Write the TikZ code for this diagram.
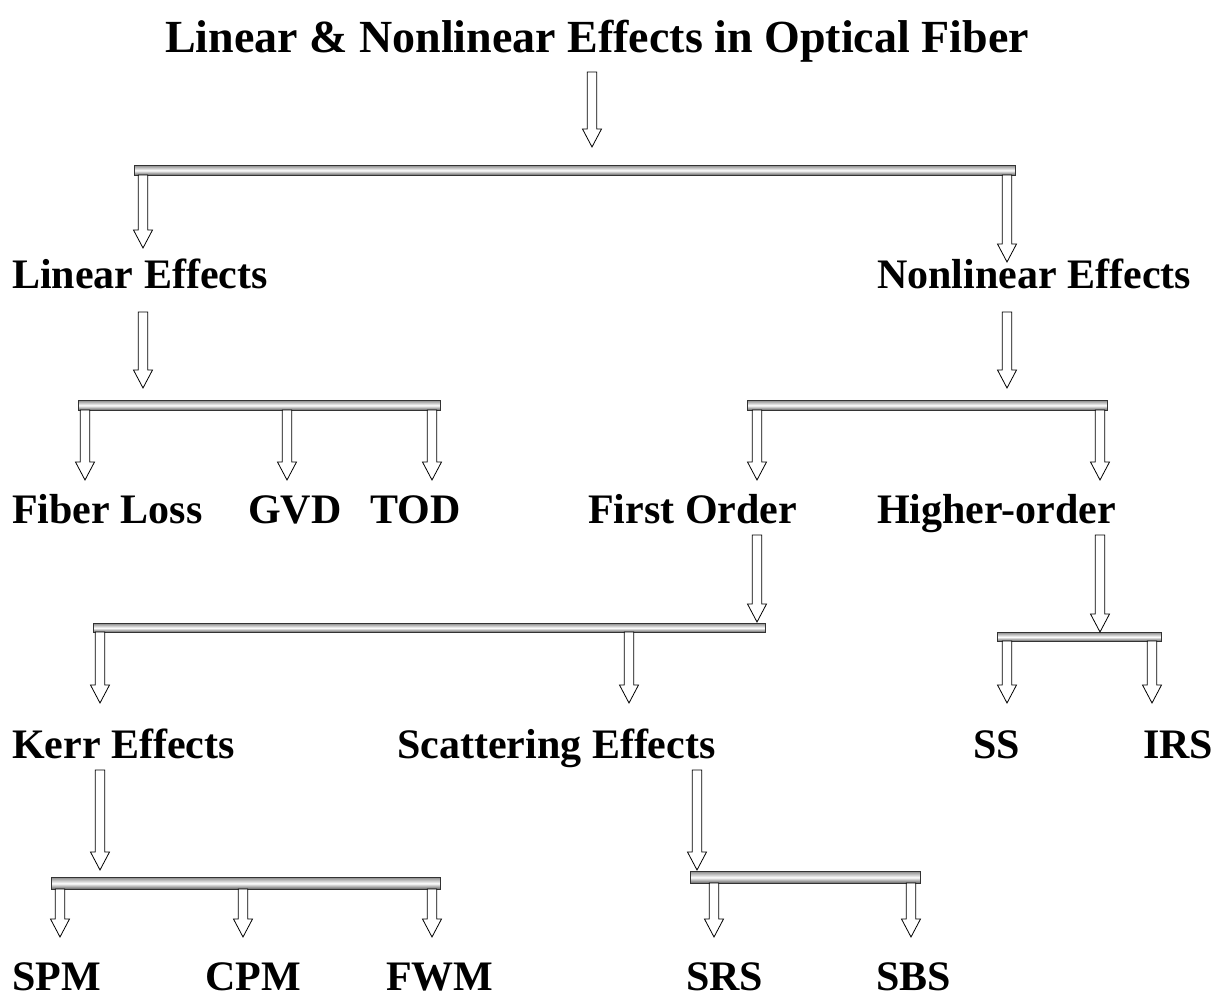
\documentclass[tikz,border=0pt]{standalone}
\usepackage{fontspec}
\setmainfont{Liberation Serif}
\usetikzlibrary{calc}
\newcommand\blk[3]{\draw[blkarrow] (#1-4.75,#2) -- (#1+4.75,#2) -- (#1+4.75,#3-18) -- (#1+9.5,#3-18) -- (#1,#3) -- (#1-9.5,#3-18) -- (#1-4.75,#3-18) -- cycle;}
\newcommand\cylbar[5]{\node[cylbar, minimum width={#4-#2}, minimum height={#5-#3}, anchor=north west] (#1) at (#2,#3) {};}
\begin{document}
\begin{tikzpicture}[x=1pt,y=-1pt,
  lbl/.style={font=\fontsize{42}{42}\selectfont\bfseries, anchor=base west, inner sep=0pt},
  ttl/.style={font=\fontsize{46}{46}\selectfont\bfseries, anchor=base, inner sep=0pt},
  blkarrow/.style={draw=black, fill=white, line width=0.8pt, line join=miter},
  cylbar/.style={draw=black!80, line width=0.8pt, inner sep=0pt, rectangle,
    top color=black!45, bottom color=black!65, middle color=white}]
\useasboundingbox (0,0) rectangle (1221,997);
% title
\node[ttl] (title) at (597,52) {Linear \& Nonlinear Effects in Optical Fiber};
% bars
\cylbar{b1}{134}{165}{1015}{175}
\cylbar{b2}{78}{400}{440}{410}
\cylbar{b3}{747}{400}{1107}{410}
\cylbar{b4}{93}{623}{765}{632}
\cylbar{b5}{997}{632}{1161}{641}
\cylbar{b6}{51}{877}{440}{889}
\cylbar{b7}{690}{871}{920}{883}
% labels
\node[lbl] (lin) at (12,288) {Linear Effects};
\node[lbl] (nonlin) at (877,288) {Nonlinear Effects};
\node[lbl] (loss) at (12,523) {Fiber Loss};
\node[lbl] (gvd) at (248,523) {GVD};
\node[lbl] (tod) at (370,523) {TOD};
\node[lbl] (first) at (588,523) {First Order};
\node[lbl] (higher) at (877,523) {Higher-order};
\node[lbl] (kerr) at (12,758) {Kerr Effects};
\node[lbl] (scat) at (397,758) {Scattering Effects};
\node[lbl] (ss) at (973,758) {SS};
\node[lbl] (irs) at (1143,758) {IRS};
\node[lbl] (spm) at (12,990) {SPM};
\node[lbl] (cpm) at (205,990) {CPM};
\node[lbl] (fwm) at (386,990) {FWM};
\node[lbl] (srs) at (686,990) {SRS};
\node[lbl] (sbs) at (876,990) {SBS};
% arrows
\blk{592}{72}{147}
\blk{143}{175}{248}
\blk{1007}{175}{262}
\blk{143}{312}{388}
\blk{1007}{312}{388}
\blk{85}{410}{480}
\blk{287}{410}{480}
\blk{432}{410}{480}
\blk{757}{410}{480}
\blk{1100}{410}{480}
\blk{757}{535}{622}
\blk{100}{632}{703}
\blk{629}{632}{703}
\blk{1100}{535}{632}
\blk{1007}{641}{703}
\blk{1152}{641}{703}
\blk{100}{770}{870}
\blk{697}{770}{870}
\blk{60}{889}{937}
\blk{243}{889}{937}
\blk{432}{889}{937}
\blk{714}{883}{937}
\blk{911}{883}{937}
\end{tikzpicture}
\end{document}
